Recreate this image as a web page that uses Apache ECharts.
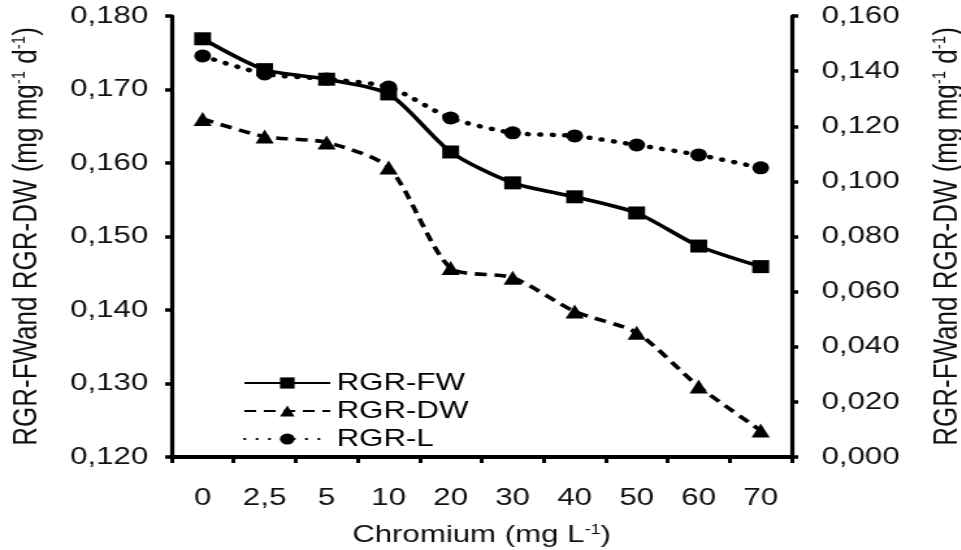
<!DOCTYPE html>
<html>
<head>
<meta charset="utf-8">
<script src="https://cdn.jsdelivr.net/npm/echarts@6/dist/echarts.min.js"></script>
<style>
  html, body { margin: 0; padding: 0; background: #fff; overflow: hidden; }
  /* the reference is stretched sideways, so draw narrower and scale it out */
  #chart { width: 739px; height: 550px; transform: scaleX(1.3); transform-origin: 0 0; }
</style>
</head>
<body>
<div id="chart"></div>
<script>
// chromium doses (x categories)
const doses = ['0', '2,5', '5', '10', '20', '30', '40', '50', '60', '70'];
// left axis series
const rgrFW = [0.1769, 0.1727, 0.1714, 0.1694, 0.1615, 0.1573, 0.1554, 0.1532, 0.1487, 0.1459];
const rgrDW = [0.1660, 0.1636, 0.1628, 0.1594, 0.1457, 0.1444, 0.1398, 0.1369, 0.1296, 0.1236];
// right axis series
const rgrL = [0.1455, 0.1390, 0.1371, 0.1342, 0.1230, 0.1176, 0.1165, 0.1132, 0.1096, 0.1049];

const FONT = 'Liberation Sans, Arial, sans-serif';
const comma3 = v => v.toFixed(3).replace('.', ',');

const axisTitle = '{a|RGR-FWand RGR-DW (mg mg}{s|-1}{a| d}{s|-1}{a|)}';
const titleRich = {
  a: { fontFamily: FONT, fontSize: 26, color: '#111' },
  s: { fontFamily: FONT, fontSize: 15, color: '#111', verticalAlign: 'top', padding: [0, 0, 12, 0] }
};

const yCommon = {
  type: 'value',
  nameLocation: 'middle',
  nameRotate: 90,
  nameTextStyle: { rich: titleRich },
  splitLine: { show: false },
  axisLine: { show: true, lineStyle: { color: '#000', width: 3.2 } },
  axisTick: { show: true, inside: false, length: 5, lineStyle: { color: '#000', width: 3.5 } },
  axisLabel: { fontFamily: FONT, fontSize: 24, color: '#111', formatter: comma3 }
};

const chart = echarts.init(document.getElementById('chart'));
chart.setOption({
  animation: false,
  backgroundColor: '#fff',
  grid: { left: 132, right: 130, top: 16, bottom: 93, outerBoundsMode: 'none', containLabel: false },
  legend: {
    orient: 'vertical',
    left: 182,
    top: 366,
    itemWidth: 66,
    itemHeight: 14,
    itemGap: 4,
    textStyle: { fontFamily: FONT, fontSize: 24, color: '#000' },
    data: ['RGR-FW', 'RGR-DW', 'RGR-L']
  },
  xAxis: {
    type: 'category',
    data: doses,
    boundaryGap: true,
    name: '{a|Chromium (mg L}{s|-1}{a|)}',
    nameLocation: 'middle',
    nameGap: 66,
    nameTextStyle: {
      rich: {
        a: { fontFamily: FONT, fontSize: 24, color: '#111' },
        s: { fontFamily: FONT, fontSize: 14, color: '#111', verticalAlign: 'top', padding: [0, 0, 11, 0] }
      }
    },
    axisLine: { lineStyle: { color: '#000', width: 3.8 } },
    axisTick: { show: true, length: 6, lineStyle: { color: '#000', width: 3 } },
    axisLabel: { fontFamily: FONT, fontSize: 24, color: '#111', margin: 29 }
  },
  yAxis: [
    Object.assign({}, yCommon, {
      position: 'left',
      min: 0.12, max: 0.18, interval: 0.01,
      name: axisTitle,
      nameGap: 98,
      axisLabel: Object.assign({}, yCommon.axisLabel, { margin: 18 })
    }),
    Object.assign({}, yCommon, {
      position: 'right',
      min: 0, max: 0.16, interval: 0.02,
      name: axisTitle,
      nameGap: 106,
      axisLabel: Object.assign({}, yCommon.axisLabel, { margin: 23 })
    })
  ],
  series: [
    {
      name: 'RGR-FW', type: 'line', yAxisIndex: 0, data: rgrFW,
      smooth: 0.25, symbol: 'rect', symbolSize: 13,
      lineStyle: { color: '#000', width: 3.6 },
      itemStyle: { color: '#000' }
    },
    {
      name: 'RGR-DW', type: 'line', yAxisIndex: 0, data: rgrDW,
      smooth: 0.25, symbol: 'triangle', symbolSize: 14,
      lineStyle: { color: '#000', width: 3.6, type: [9, 6] },
      itemStyle: { color: '#000' }
    },
    {
      name: 'RGR-L', type: 'line', yAxisIndex: 1, data: rgrL,
      smooth: 0.25, symbol: 'circle', symbolSize: 13,
      lineStyle: { color: '#000', width: 4.5, type: [0.5, 9], cap: 'round' },
      itemStyle: { color: '#000' }
    }
  ]
});
</script>
</body>
</html>
